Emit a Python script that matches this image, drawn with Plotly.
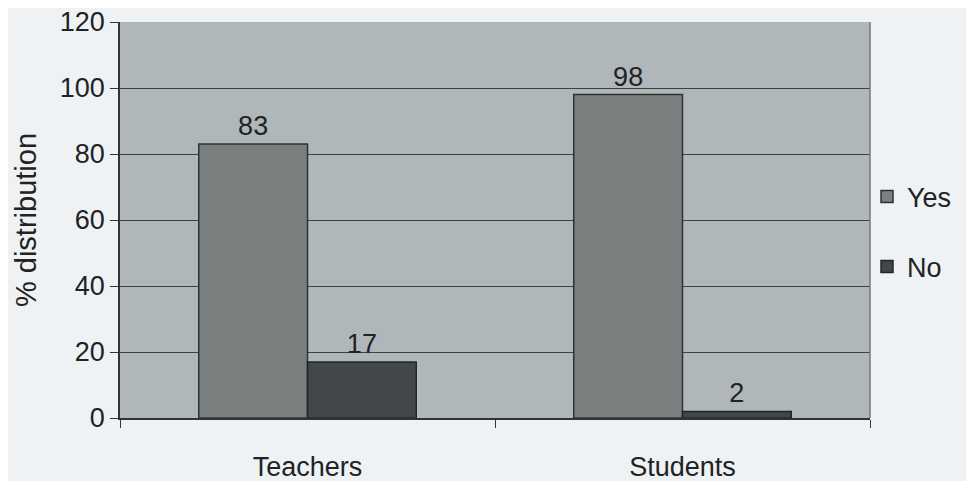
import plotly.graph_objects as go

categories = ["Teachers", "Students"]
yes_values = [83, 98]
no_values = [17, 2]
y_ticks = [0, 20, 40, 60, 80, 100, 120]

font_family = "Liberation Sans, Arial, sans-serif"

fig = go.Figure()
fig.add_trace(go.Bar(
    name="Yes", x=categories, y=yes_values, legendgroup="yes",
    marker=dict(color="#7a8080", line=dict(color="#2e3332", width=1.5)),
    text=yes_values, textposition="outside", cliponaxis=False,
    textfont=dict(size=27, color="#222", family=font_family),
))
fig.add_trace(go.Bar(
    name="No", x=categories, y=no_values, legendgroup="no",
    marker=dict(color="#41474a", line=dict(color="#222726", width=1.5)),
    text=no_values, textposition="outside", cliponaxis=False,
    textfont=dict(size=27, color="#222", family=font_family),
))

fig.update_layout(
    width=966, height=473,
    margin=dict(l=112, r=104, t=14, b=63, autoexpand=False),
    paper_bgcolor="#eef2f5",
    plot_bgcolor="#b0b7ba",
    barmode="group",
    bargap=0.42,
    bargroupgap=0,
    font=dict(family=font_family, size=27, color="#222"),
    legend=dict(
        x=0.996, y=0.47, xanchor="left", yanchor="middle",
        font=dict(size=27, color="#222"),
        traceorder="grouped", tracegroupgap=32,
        bgcolor="rgba(0,0,0,0)", itemwidth=30,
    ),
    showlegend=True,
)
fig.update_yaxes(
    range=[0, 120], tickvals=y_ticks,
    showgrid=True, gridcolor="#3c4142", gridwidth=1,
    showline=True, linecolor="#333", linewidth=1.5,
    ticks="outside", ticklen=8, tickcolor="#333",
    tickfont=dict(size=27, color="#222"),
    ticklabeloverflow="allow",
    title=dict(text="% distribution", font=dict(size=29, color="#222")),
    zeroline=False, automargin=False,
)
fig.update_xaxes(
    showline=True, linecolor="#333", linewidth=1.5,
    ticks="outside", ticklen=8, tickcolor="#333", tickson="boundaries",
    tickfont=dict(size=27, color="#222"),
    ticklabelstandoff=24,
    showgrid=False, automargin=False,
)
fig.add_shape(type="line", xref="paper", yref="paper", x0=1, x1=1, y0=0, y1=1,
              line=dict(color="#777", width=1.5))

fig.write_html("out.html")
